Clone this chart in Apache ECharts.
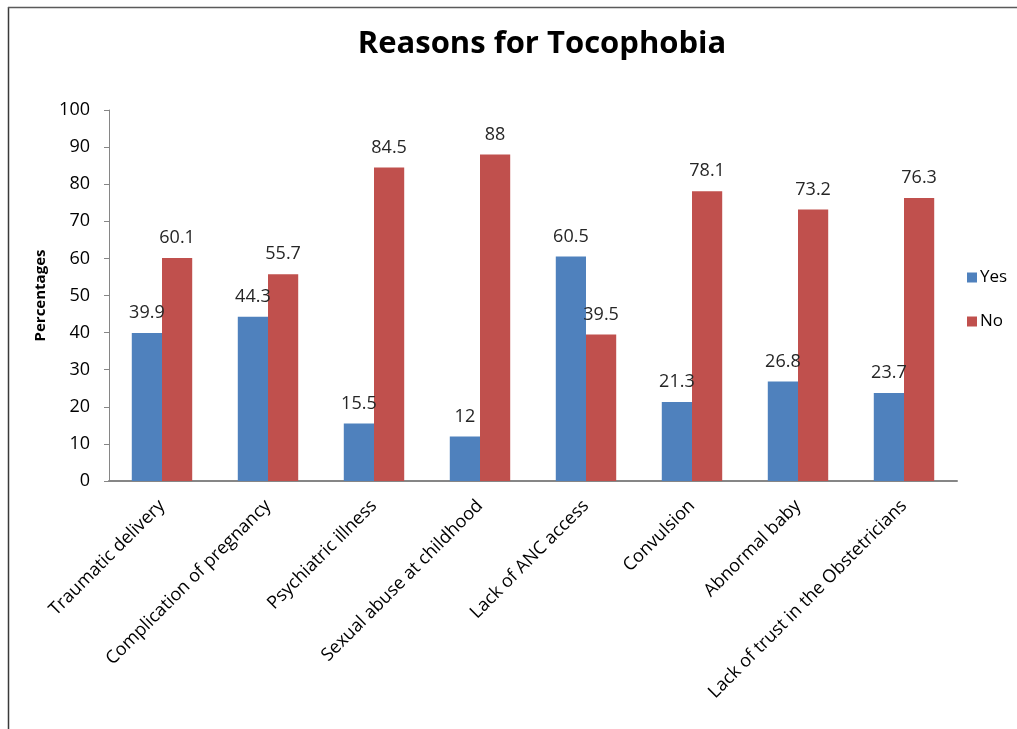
<!DOCTYPE html>
<html>
<head>
<meta charset="utf-8">
<script src="https://cdn.jsdelivr.net/npm/echarts@6/dist/echarts.min.js"></script>
<style>
  html, body { margin: 0; padding: 0; background: #fff; }
  #chart { width: 1017px; height: 729px; }
</style>
</head>
<body>
<div id="chart"></div>
<script>
const categories = [
  'Traumatic delivery',
  'Complication of pregnancy',
  'Psychiatric illness',
  'Sexual abuse at childhood',
  'Lack of ANC access',
  'Convulsion',
  'Abnormal baby',
  'Lack of trust in the Obstetricians'
];
const yesValues = [39.9, 44.3, 15.5, 12, 60.5, 21.3, 26.8, 23.7];
const noValues  = [60.1, 55.7, 84.5, 88, 39.5, 78.1, 73.2, 76.3];
const yTicks = { min: 0, max: 100, interval: 10 };

const FONT = '"Open Sans", Lato, sans-serif';
const valueLabel = {
  show: true,
  position: 'top',
  distance: 11,
  fontFamily: FONT,
  fontSize: 18,
  color: '#262626'
};

const chart = echarts.init(document.getElementById('chart'));
chart.setOption({
  animation: false,
  backgroundColor: '#ffffff',
  title: {
    text: 'Reasons for Tocophobia',
    left: 537,
    textAlign: 'center',
    top: 24,
    textStyle: { fontFamily: FONT, fontSize: 31, fontWeight: 'bold', color: '#000' }
  },
  legend: {
    orient: 'vertical',
    left: 962,
    top: 264,
    itemGap: 27,
    itemWidth: 10,
    itemHeight: 10,
    icon: 'rect',
    textStyle: { fontFamily: FONT, fontSize: 17, color: '#000', padding: [0, 0, 0, -2] },
    data: ['Yes', 'No']
  },
  grid: { left: 109, right: 60, top: 110, bottom: 248, containLabel: false },
  xAxis: {
    type: 'category',
    data: categories,
    axisLine: { lineStyle: { color: '#868686', width: 2 } },
    axisTick: { show: false },
    axisLabel: {
      rotate: 45,
      interval: 0,
      margin: 22,
      fontFamily: FONT,
      fontSize: 18,
      color: '#000'
    }
  },
  yAxis: {
    type: 'value',
    min: yTicks.min,
    max: yTicks.max,
    interval: yTicks.interval,
    name: 'Percentages',
    nameLocation: 'middle',
    nameGap: 60,
    nameTextStyle: { fontFamily: FONT, fontSize: 15, fontWeight: 'bold', color: '#000' },
    axisLine: { show: true, lineStyle: { color: '#868686', width: 1 } },
    axisTick: { show: true, length: 5, lineStyle: { color: '#868686' } },
    splitLine: { show: false },
    axisLabel: { margin: 19, fontFamily: FONT, fontSize: 18, color: '#000' }
  },
  series: [
    {
      name: 'Yes',
      type: 'bar',
      data: yesValues,
      barGap: '0%',
      barCategoryGap: '43%',
      itemStyle: { color: '#4F81BD' },
      label: valueLabel
    },
    {
      name: 'No',
      type: 'bar',
      data: noValues,
      itemStyle: { color: '#C0504D' },
      label: valueLabel
    }
  ],
  graphic: [
    { type: 'line', shape: { x1: 8.5, y1: 7, x2: 8.5, y2: 729 }, style: { stroke: '#3a3a3a', lineWidth: 1.5 } },
    { type: 'line', shape: { x1: 8, y1: 7.5, x2: 1017, y2: 7.5 }, style: { stroke: '#5a5a5a', lineWidth: 1.5 } }
  ]
});
</script>
</body>
</html>
